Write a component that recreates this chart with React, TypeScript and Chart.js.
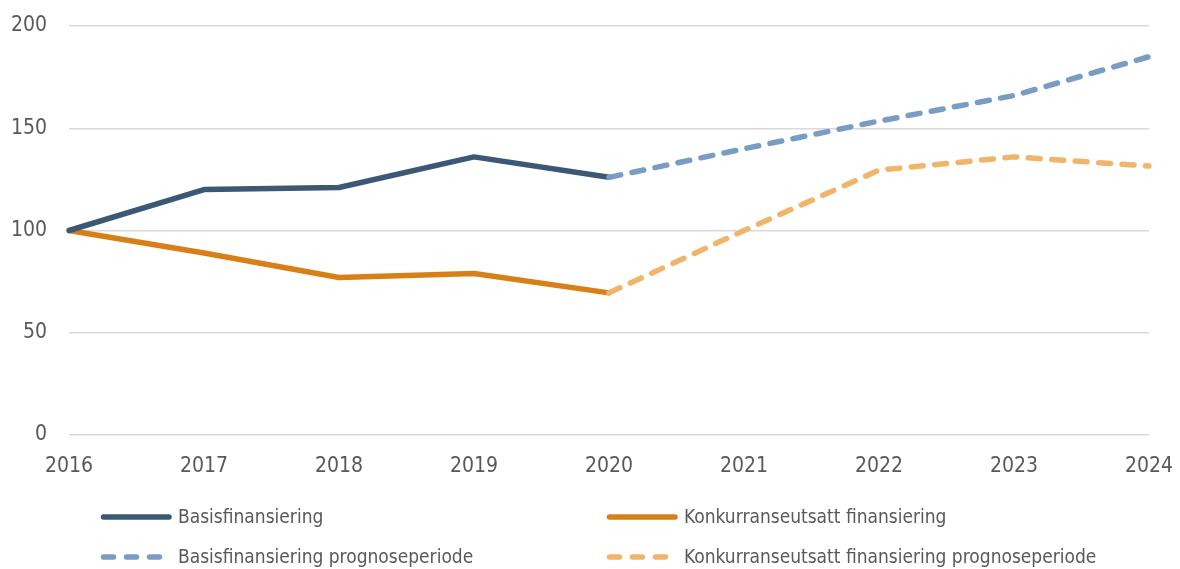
import React, { useEffect, useRef } from "react";
import { Chart, registerables } from "chart.js";

Chart.register(...registerables);

const years = ["2016", "2017", "2018", "2019", "2020", "2021", "2022", "2023", "2024"];
const basis = [100, 120, 121, 136, 126, null, null, null, null];
const konkurranse = [100, 89, 77, 79, 69.5, null, null, null, null];
const basisPrognose = [null, null, null, null, 126, 140, 153.5, 166, 185];
const konkurransePrognose = [null, null, null, null, 69.5, 100, 129.5, 136, 131.5];
const legendLabels = [
  "Basisfinansiering",
  "Konkurranseutsatt finansiering",
  "Basisfinansiering prognoseperiode",
  "Konkurranseutsatt finansiering prognoseperiode",
];

const C_BASIS = "#3B5875";
const C_KONK = "#D97F17";
const C_BASIS_P = "#7A9CC2";
const C_KONK_P = "#F1B46B";
const DASH = [12, 11.5];
const FONT = "'Liberation Sans Narrow', 'DejaVu Sans Condensed', 'Liberation Sans', sans-serif";

const legendPlugin = {
  id: "customLegend",
  afterDraw(chart: any) {
    const ctx = chart.ctx;
    const items = [
      { label: legendLabels[0], color: C_BASIS, dash: [], x: 101, y: 517 },
      { label: legendLabels[1], color: C_KONK, dash: [], x: 607, y: 517 },
      { label: legendLabels[2], color: C_BASIS_P, dash: [10, 13], x: 101, y: 557 },
      { label: legendLabels[3], color: C_KONK_P, dash: [10, 13], x: 607, y: 557 },
    ];
    ctx.save();
    for (const it of items) {
      ctx.beginPath();
      ctx.setLineDash(it.dash);
      ctx.lineCap = "round";
      ctx.lineWidth = 5.5;
      ctx.strokeStyle = it.color;
      ctx.moveTo(it.x + 2.5, it.y);
      ctx.lineTo(it.x + 68, it.y);
      ctx.stroke();
      ctx.setLineDash([]);
      ctx.fillStyle = "#595959";
      ctx.font = `19px ${FONT}`;
      ctx.textBaseline = "middle";
      ctx.textAlign = "left";
      ctx.fillText(it.label, it.x + 77, it.y + 1);
    }
    ctx.restore();
  },
};

export default function App() {
  const ref = useRef<HTMLCanvasElement | null>(null);
  useEffect(() => {
    document.body.style.margin = "0";
    const ctx = ref.current!.getContext("2d")!;
    const common = { pointRadius: 0, borderWidth: 5.5, fill: false, tension: 0, borderCapStyle: "round" as const, borderJoinStyle: "round" as const, spanGaps: false };
    const chart = new Chart(ctx, {
      type: "line",
      data: {
        labels: years,
        datasets: [
          { label: legendLabels[2], data: basisPrognose, borderColor: C_BASIS_P, borderDash: DASH, ...common },
          { label: legendLabels[3], data: konkurransePrognose, borderColor: C_KONK_P, borderDash: DASH, ...common },
          { label: legendLabels[0], data: basis, borderColor: C_BASIS, ...common },
          { label: legendLabels[1], data: konkurranse, borderColor: C_KONK, ...common },
        ],
      },
      options: {
        animation: false,
        responsive: false,
        maintainAspectRatio: false,
        layout: { padding: { top: 26, right: 31, left: 0, bottom: 0 } },
        plugins: { legend: { display: false }, tooltip: { enabled: false } },
        scales: {
          x: {
            offset: false,
            grid: { display: false, drawTicks: false },
            border: { display: false },
            ticks: { color: "#595959", font: { size: 21, family: FONT }, padding: 19, maxRotation: 0 },
            afterFit: (s: any) => { s.height = 134; s.paddingLeft = 0; s.paddingRight = 0; },
          },
          y: {
            min: 0,
            max: 200,
            ticks: { stepSize: 50, color: "#595959", font: { size: 21, family: FONT }, padding: 22 },
            grid: { color: "#D9D9D9", lineWidth: 1.5, drawTicks: false },
            border: { display: false },
            afterFit: (s: any) => { s.width = 69; s.paddingTop = 0; s.paddingBottom = 0; },
          },
        },
      },
      plugins: [legendPlugin],
    });
    return () => chart.destroy();
  }, []);
  return (
    <div style={{ width: 1180, height: 569 }}>
      <canvas ref={ref} width={1180} height={569} style={{ display: "block" }} />
    </div>
  );
}
